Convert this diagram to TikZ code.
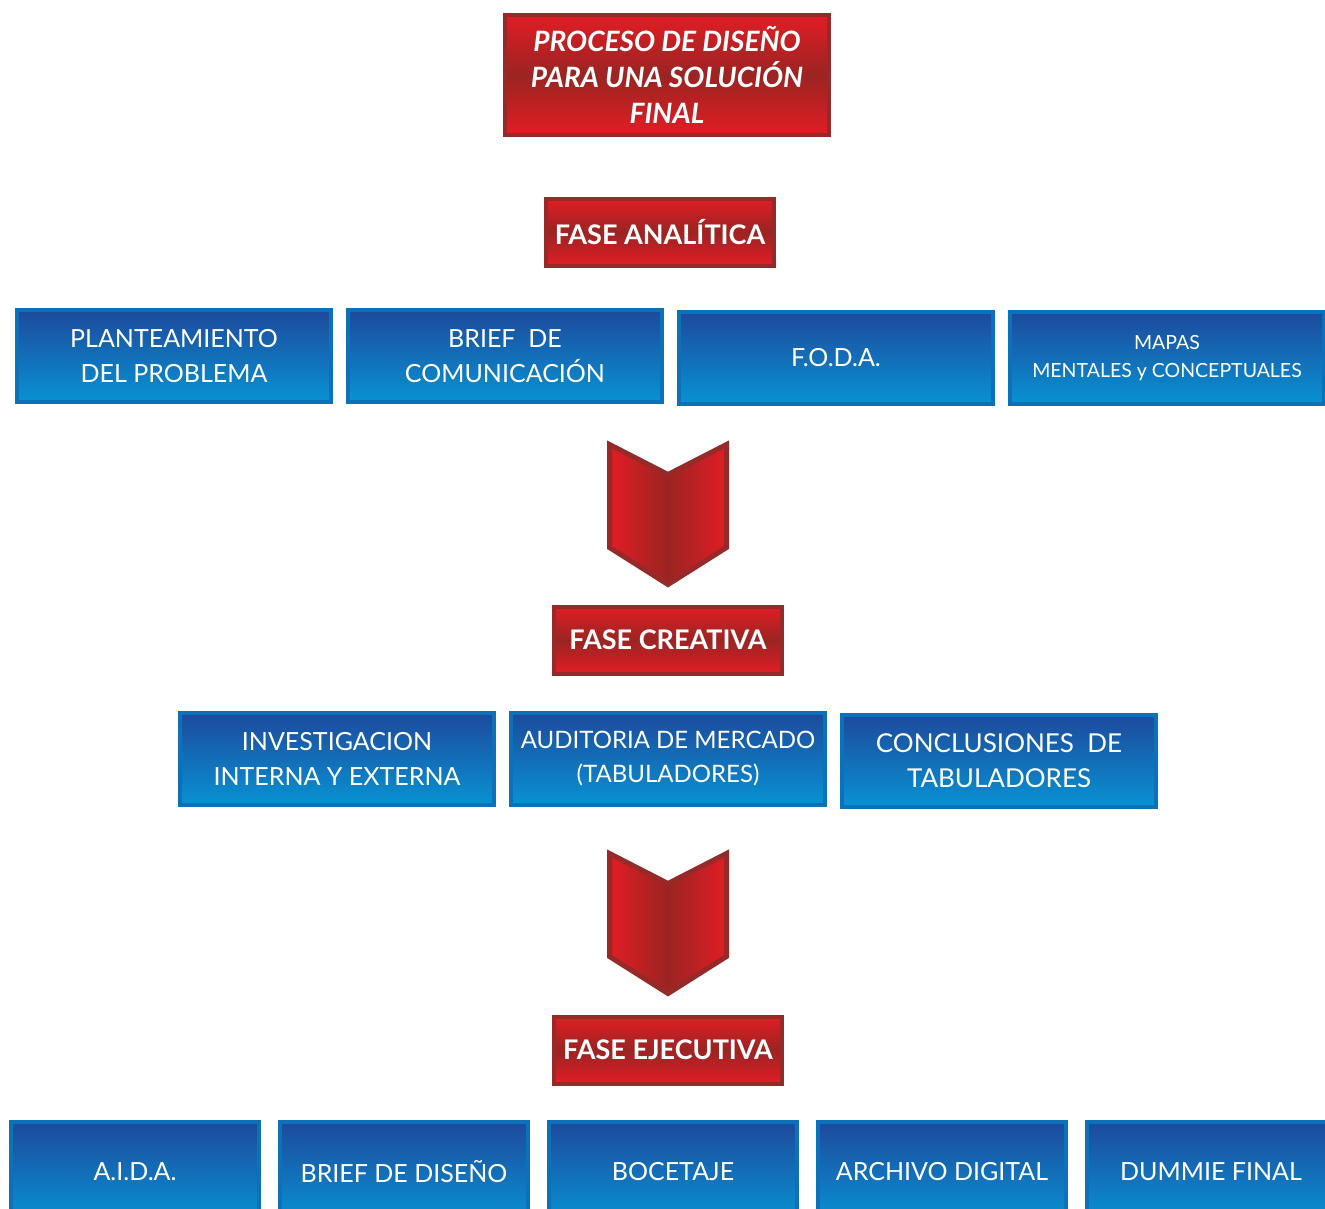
\documentclass[tikz,border=0pt]{standalone}
\usepackage{fontspec}
\setmainfont{Lato}
\definecolor{faserojo}{HTML}{E11D25}
\definecolor{faseoscuro}{HTML}{9B2422}
\definecolor{faseborde}{HTML}{952A29}
\definecolor{pasoarriba}{HTML}{1D4A9C}
\definecolor{pasoabajo}{HTML}{0892D3}
\definecolor{pasoborde}{HTML}{0B72BA}
\begin{document}
\begin{tikzpicture}[x=1pt,y=-1pt,
	fase/.style={draw=faseborde, line width=4pt, top color=faserojo, bottom color=faserojo,
		middle color=faseoscuro, text=white, font=\bfseries\fontsize{27}{36}\selectfont,
		inner sep=0pt, minimum width=228pt, minimum height=67pt, align=center},
	paso/.style={draw=pasoborde, line width=4pt, top color=pasoarriba, bottom color=pasoabajo,
		text=white, font=\fontsize{25}{35}\selectfont, inner sep=0pt,
		minimum width=314pt, minimum height=92pt, align=center},
	final/.style={paso, minimum width=248pt, minimum height=100pt},
	flecha/.style={draw=faseborde, line width=5pt, line join=miter,
		left color=faserojo, right color=faserojo, middle color=faseoscuro}]
		\useasboundingbox (0,0) rectangle (1325,1208);
		\clip (0,0) rectangle (1325,1208);

		% titulo y fases
		\node[fase, minimum width=324pt, minimum height=120pt, font=\bfseries\itshape\fontsize{28}{36}\selectfont]
		  (titulo) at (667,75) {PROCESO DE DISEÑO\\PARA UNA SOLUCIÓN\\FINAL};
		\node[fase] (analitica) at (660,232) {FASE ANALÍTICA};
		\node[fase] (creativa) at (668,640) {FASE CREATIVA};
		\node[fase] (ejecutiva) at (668,1050) {FASE EJECUTIVA};

		% fase analitica
		\node[paso] (plantea) at (174,356) {PLANTEAMIENTO\\DEL PROBLEMA};
		\node[paso] (brief) at (505,356) {BRIEF~ DE\\COMUNICACIÓN};
		\node[paso] (foda) at (836,358) {F.O.D.A.};
		\node[paso, font=\fontsize{19.5}{28}\selectfont] (mapas) at (1167,358) {MAPAS\\MENTALES y CONCEPTUALES};

		\draw[flecha] (609.5,444.5) -- (668,474.5) -- (726.5,444.5) -- (726.5,547.5)
		  -- (668,584.5) -- (609.5,547.5) -- cycle;

		% fase creativa
		\node[paso] (investiga) at (337,759) {INVESTIGACION\\INTERNA Y EXTERNA};
		\node[paso, font=\fontsize{24}{34}\selectfont] (auditoria) at (668,759) {AUDITORIA DE MERCADO\\(TABULADORES)};
		\node[paso, font=\fontsize{26}{35}\selectfont] (conclusion) at (999,761) {CONCLUSIONES~ DE\\TABULADORES};

		\draw[flecha] (609.5,853.5) -- (668,883.5) -- (726.5,853.5) -- (726.5,956.5)
		  -- (668,993.5) -- (609.5,956.5) -- cycle;

		% fase ejecutiva
		\node[final] (aida) at (135,1172) {A.I.D.A.};
		\node[final] (briefdis) at (404,1172) {BRIEF DE DISEÑO};
		\node[final] (boceto) at (673,1172) {BOCETAJE};
		\node[final] (archivo) at (942,1172) {ARCHIVO DIGITAL};
		\node[final] (dummie) at (1211,1172) {DUMMIE FINAL};

\end{tikzpicture}
\end{document}
